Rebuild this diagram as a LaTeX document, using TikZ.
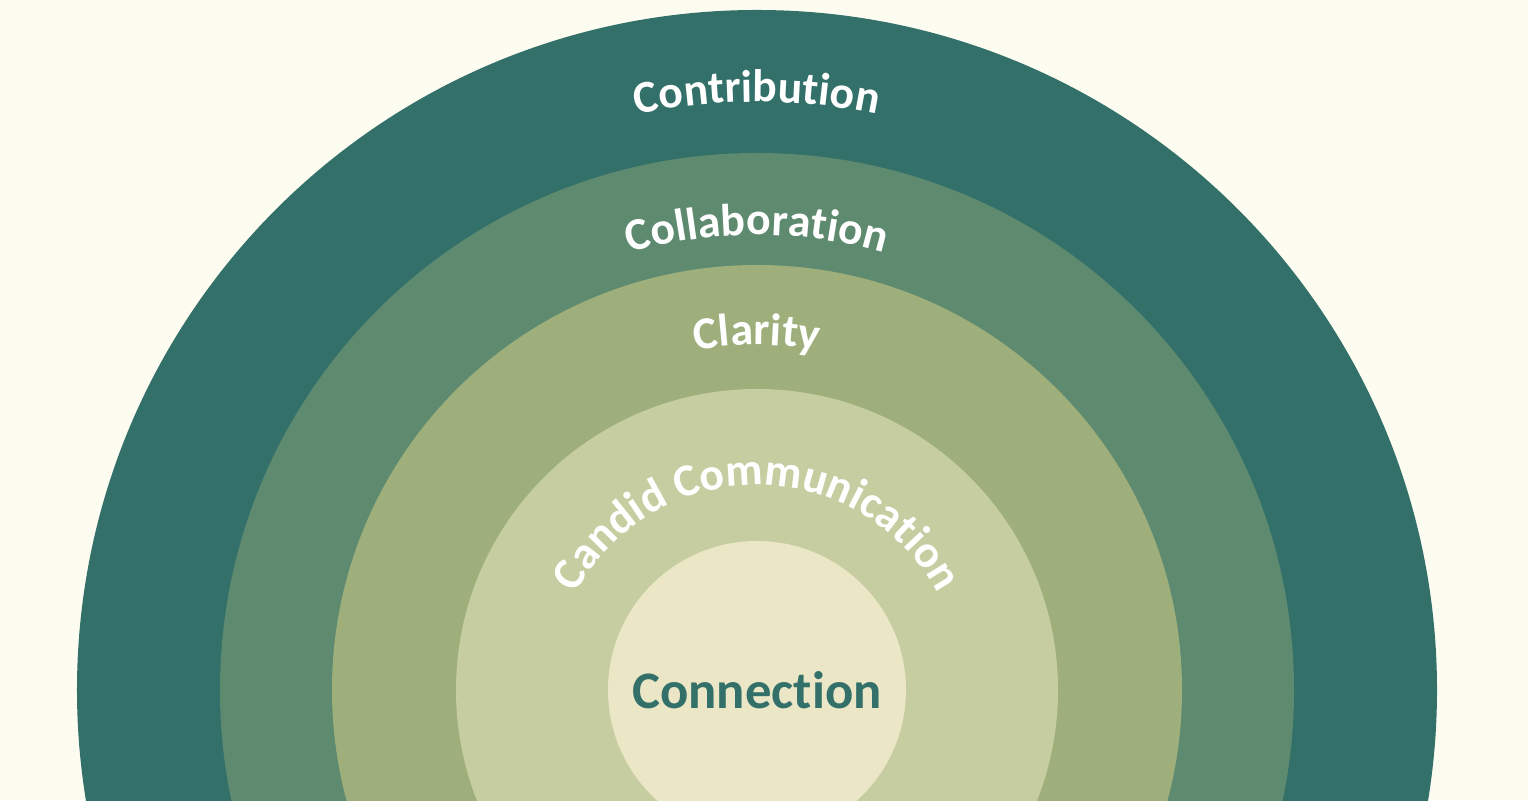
\documentclass[tikz,border=0pt]{standalone}
\usepackage{fontspec}
\setmainfont{Carlito}[Ligatures={NoCommon}]
\usetikzlibrary{decorations.text}
\definecolor{bgcream}{HTML}{FDFCF0}
\definecolor{ringA}{HTML}{33706A}
\definecolor{ringB}{HTML}{5E8A70}
\definecolor{ringC}{HTML}{9EAF7C}
\definecolor{ringD}{HTML}{C6CDA0}
\definecolor{ringE}{HTML}{EAE6C6}
\newcommand\lbl{\bfseries\fontsize{13}{15}\selectfont}
\begin{document}
\begin{tikzpicture}[
    ring/.style={fill=#1, draw=none},
    arclabel/.style={decorate, decoration={text along path, text align=center,
        text color=white, text={|\lbl|#1}}}
    ]

    % cadre
    \fill[bgcream] (-7.57,-1.10) rectangle (7.71,6.90);
    \useasboundingbox (-7.57,-1.10) rectangle (7.71,6.90);
    \clip (-7.57,-1.10) rectangle (7.71,6.90);

    % anneaux
    \fill[ring=ringA] (0,0) circle[radius=6.80cm];
    \fill[ring=ringB] (0,0) circle[radius=5.37cm];
    \fill[ring=ringC] (0,0) circle[radius=4.25cm];
    \fill[ring=ringD] (0,0) circle[radius=3.01cm];
    \fill[ring=ringE] (0,0) circle[radius=1.49cm];

    % textes courbes
    \path[arclabel=Contribution] (150:5.88) arc[start angle=150, end angle=30, radius=5.88cm];
    \path[arclabel=Collaboration] (150:4.55) arc[start angle=150, end angle=30, radius=4.55cm];
    \path[arclabel=Clarity] (150:3.45) arc[start angle=150, end angle=30, radius=3.45cm];
    \path[arclabel=Candid Communication] (170:2.05) arc[start angle=170, end angle=10, radius=2.05cm];

    \node[text=ringA, font=\lbl\fontsize{15}{17}\selectfont] (connection) at (0,0) {Connection};

\end{tikzpicture}
\end{document}
